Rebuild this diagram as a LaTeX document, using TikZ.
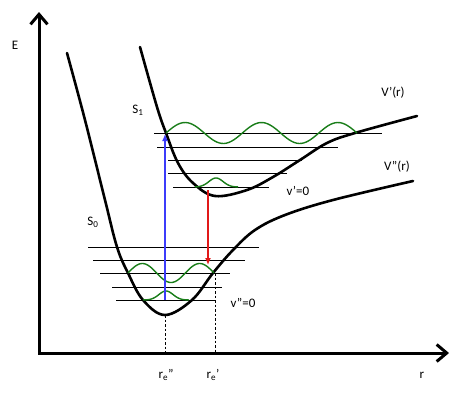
\documentclass[tikz,border=0pt]{standalone}
\usepackage{fontspec}
\setmainfont{Carlito}
\usepackage{tikz}
\usetikzlibrary{arrows.meta}
\definecolor{absblue}{RGB}{60,60,250}
\definecolor{emred}{RGB}{225,25,25}
\definecolor{wavegreen}{RGB}{25,125,25}
\tikzset{
  potcurve/.style={line width=2.6pt, line cap=round},
  vlevel/.style={line width=1pt},
  wavefn/.style={wavegreen, line width=1.4pt, samples=80, smooth},
  axisline/.style={line width=3pt,
    {Straight Barb[length=10pt,width=17pt]}-{Straight Barb[length=10pt,width=17pt]}},
  transarrow/.style={line width=1.3pt, -{Latex[length=7pt,width=6pt]}},
  droptick/.style={line width=0.8pt, dash pattern=on 2.5pt off 2pt},
  figlabel/.style={font=\fontsize{13}{15}\selectfont, inner sep=0pt},
}

\begin{document}
\begin{tikzpicture}[x=1pt, y=-1pt]
  \useasboundingbox (0,0) rectangle (474,392);
  \coordinate (ytip) at (39,12);
  \coordinate (orig) at (39,353);
  \coordinate (xtip) at (449,353);
  \draw[axisline] (ytip) -- (orig) -- (xtip);

  \draw[potcurve] plot[smooth, tension=0.6] coordinates {(67,53) (85,120) (105,200) (117,247) (128,273)
    (143,300) (165,315) (192,300) (213,273) (233,250) (255,230) (285,215) (333,200) (413,181)};
  \draw[potcurve] plot[smooth, tension=0.6] coordinates {(140,47) (157,107) (166,133) (178,163) (193,183)
    (215,196) (247,190) (273,177) (300,160) (327,143) (355,133) (417,116)};

  \foreach \y/\xa/\xb in {133/154/382, 147/157/338, 160/168/302, 173/168/287, 187/173/269,
                          247/88/259, 260/93/245, 273/100/230, 287/112/222, 300/116/215}
    \draw[vlevel] (\xa,\y) -- (\xb,\y);

  \draw[wavefn, domain=166:357] plot (\x, {133-10.5*sin((\x-166)/191*900)});
  \draw[wavefn, domain=195:238] plot (\x, {187-9*exp(-((\x-216)/10)^2)});
  \draw[wavefn, domain=128:214] plot (\x, {273-9.5*sin((\x-128)/86*540)});
  \draw[wavefn, domain=143:189] plot (\x, {300-9*exp(-((\x-166)/10)^2)});

  \coordinate (absbot) at (165,300);
  \coordinate (abstop) at (165,134);
  \coordinate (emtop) at (208,190);
  \coordinate (embot) at (208,265);
  \draw[transarrow, absblue] (absbot) -- (abstop);
  \draw[transarrow, emred] (emtop) -- (embot);

  \coordinate (gmin) at (165,315);
  \coordinate (gaxis) at (165,353);
  \coordinate (emhit) at (215,273);
  \coordinate (emaxis) at (215,353);
  \draw[droptick] (gmin) -- (gaxis);
  \draw[droptick] (emhit) -- (emaxis);

  \node[figlabel] (elab) at (15,45) {E};
  \node[figlabel] (rlab) at (422,375) {r};
  \node[figlabel] (regnd) at (166,375) {r\textsubscript{e}”};
  \node[figlabel] (reexc) at (213,375) {r\textsubscript{e}’};
  \node[figlabel] (sone) at (138,110) {S\textsubscript{1}};
  \node[figlabel] (szero) at (93,222) {S\textsubscript{0}};
  \node[figlabel] (vexc) at (393,93) {V’(r)};
  \node[figlabel] (vgnd) at (397,167) {V”(r)};
  \node[figlabel] (vzexc) at (298,191) {v’=0};
  \node[figlabel] (vzgnd) at (243,303) {v”=0};
\end{tikzpicture}
\end{document}
